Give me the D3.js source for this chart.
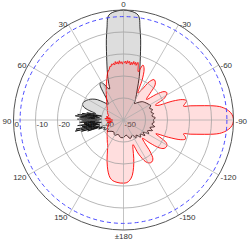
<!DOCTYPE html>
<html><head><meta charset="utf-8">
<script src="https://cdn.jsdelivr.net/npm/d3@7"></script>
<style>html,body{margin:0;padding:0;background:#fff}svg{display:block}</style>
</head><body>
<svg id="c" width="248" height="242"></svg>
<script>
// angle ticks (deg, counter-clockwise from top) and labels
const angleTicks = [0, 30, 60, 90, 120, 150, 180, -150, -120, -90, -60, -30];
const angleLabels = ["0", "30", "60", "90", "120", "150", "±180", "-150", "-120", "-90", "-60", "-30"];
// radial ticks (dB)
const radialTicks = [0, -10, -20, -30, -40, -50];
const radialLabels = ["0", "-10", "-20", "-30", "-40", "-50"];
const refLevel = -3;

// gray pattern (deg, dB)
const grayAngles = [-180,-170,-160,-150,-145,-140,-135,-130,-126,-122,-118,-114,-110,-106,-102,-98,-94,-90,-86,-82,-78,-74,-70,-66,-62,-58,-54,-50,-46,-42,-38,-34,-30,-27,-24,-22,-20,-18,-16,-14,-12,-10,-9,-8,-6,-3,0,3,6,8,9,10,12,14,16,18,20,22,24,26,28,30,32,34,36,38,41,44,48,52,56,60,64,68,71,74,77,79,80,81,82,83,84,85,86,87,88,89,90,91,92,93,94,95,96,97,98,99,100,101,102,103,104,105,106,107,108,110,112,116,120,125,130,140,150,160,170];
const grayDb = [-42,-43,-41,-42,-40,-41,-39,-40,-38,-39.5,-37,-38,-36,-37.5,-35.5,-37,-36,-36.5,-35.5,-37,-36,-37,-36,-37,-36,-36.5,-37,-37.5,-38,-39,-40,-41,-39,-37,-34.5,-32,-29,-26,-22.5,-18,-12.5,-7,-3.5,-1.9,-0.9,-0.3,0,-0.3,-0.9,-1.9,-3.5,-7,-12.5,-18,-22.5,-26,-29,-32,-34.5,-34,-32,-30.5,-30,-31,-34,-37,-39,-40,-38,-35,-33,-31.5,-30.5,-30,-30.5,-33,-37,-33,-40,-31,-38,-29,-39,-28,-37,-30,-40,-29,-38,-31,-39,-30,-37,-32,-40,-29,-38,-31,-39,-28,-37,-27.5,-39,-30,-38,-33,-40,-38,-41,-40,-42,-41,-42,-43,-42,-43,-42];

// red pattern (deg, dB)
const redAngles = [-180,-177,-174,-171,-168,-165,-162,-159,-156,-152,-149,-146,-143,-140,-137,-134,-131,-128,-125,-121,-118,-115,-113,-111,-109,-107,-105,-103,-102,-101,-100,-99,-98,-97,-96,-94,-92,-90,-88,-86,-84,-83,-82,-81,-80,-79,-78,-77,-75,-73,-71,-69,-67,-65,-62,-58,-55,-52,-48,-45,-42,-39,-37,-34,-31,-28,-25,-22,-19.5,-17,-15,-14,-13,-12,-11,-10,-9,-8,-7,-6,-5,-4,-3,-2,-1,0,1,2,3,4,5,6,7,8,9,10,11,12,13,14,15,16,18,20,22,24,27,30,34,38,42,46,50,55,60,65,70,75,80,83,86,89,92,95,98,101,105,110,115,120,125,130,135,140,144,148,152,155,158,161,164,167,170,174,177];
const redDb = [-21.3,-21.5,-22.5,-24.5,-28,-32,-36,-38,-33,-28.5,-27.2,-27,-27.8,-31,-36,-38,-34,-29.5,-27.5,-27,-28,-32,-34,-28,-22.5,-20.5,-21,-22,-19,-16,-12.5,-8.8,-6,-4.3,-3,-1.2,-0.3,0,-0.3,-1.2,-3,-4.3,-6,-8.8,-12.5,-16,-19,-22,-21,-20,-21.5,-26,-33,-34,-29,-26.7,-27.5,-31,-36,-33,-28.5,-27.2,-27,-29,-34,-36,-30,-25,-23.5,-27,-24,-23,-24.5,-23.2,-24.2,-23,-24.5,-23.5,-24.8,-23.2,-24,-23,-24.5,-23.2,-24,-23.3,-24.6,-23.5,-24.2,-23,-24.5,-23.4,-24.3,-23.2,-24.6,-23.8,-24.5,-24,-25,-24.8,-25.5,-26.2,-27,-28.3,-29.8,-31,-32.8,-34.3,-36,-37.5,-38.6,-39.4,-40.2,-41,-41.5,-42,-42.5,-43,-42,-44,-41.5,-45,-42,-45,-42.5,-44,-43,-42.5,-42,-41.5,-41,-40.3,-39.5,-38.5,-37.5,-36.5,-34.5,-32.5,-30,-27.5,-25,-23,-22,-21.5,-21.3];

const W = 248, H = 242, cx = 123.5, cy = 120, R = 110;
const svg = d3.select("#c");
const g = svg.append("g").attr("transform", `translate(${cx},${cy})`);
const r = d3.scaleLinear().domain([-50, 0]).range([0, R]).clamp(true);
const rad = d => -d * Math.PI / 180;  // CCW degrees -> d3 angle
const font = "'Liberation Sans', Arial, sans-serif";

// radial labels (under data)
g.selectAll("text.rl").data(radialTicks).join("text")
  .attr("x", (d) => -r(d) + 1).attr("y", 4.5)
  .attr("font-family", font).attr("font-size", 8).attr("fill", "#333")
  .attr("dominant-baseline", "central")
  .text((d, i) => radialLabels[i]);

// data
const line = d3.lineRadial().curve(d3.curveCatmullRomClosed.alpha(0.5))
  .angle(d => rad(d[0])).radius(d => r(d[1]));
const grayData = grayAngles.map((a, i) => [a, grayDb[i]]);
const redData = redAngles.map((a, i) => [a, redDb[i]]);
g.append("path").attr("d", line(grayData))
  .attr("fill", "rgba(120,120,120,0.25)").attr("stroke", "#000").attr("stroke-width", 0.8);
g.append("path").attr("d", line(redData))
  .attr("fill", "rgba(255,0,0,0.13)").attr("stroke", "#ff0000").attr("stroke-width", 0.9);

// grid
g.selectAll("circle.grid").data(radialTicks.filter(d => d > -50 && d < 0)).join("circle")
  .attr("r", d => r(d)).attr("fill", "none").attr("stroke", "#999").attr("stroke-opacity", 0.7).attr("stroke-width", 1);
g.selectAll("line.spoke").data(angleTicks).join("line")
  .attr("x1", 0).attr("y1", 0)
  .attr("x2", d => -R * Math.sin(d * Math.PI / 180))
  .attr("y2", d => -R * Math.cos(d * Math.PI / 180))
  .attr("stroke", "#aaa").attr("stroke-opacity", 0.7).attr("stroke-width", 1);
g.append("circle").attr("r", r(refLevel)).attr("fill", "none")
  .attr("stroke", "#4a4aff").attr("stroke-width", 1).attr("stroke-dasharray", "4,3");
g.append("circle").attr("r", R).attr("fill", "none").attr("stroke", "#555").attr("stroke-width", 1);

// angle labels
const LR = 112;
g.selectAll("text.al").data(angleTicks).join("text")
  .each(function (d, i) {
    const s = Math.sin(d * Math.PI / 180), c = Math.cos(d * Math.PI / 180);
    const x = -LR * s, y = -LR * c;
    const t = d3.select(this);
    t.attr("x", x).attr("font-family", font).attr("font-size", 8).attr("fill", "#333")
      .attr("text-anchor", s > 0.1 ? "end" : (s < -0.1 ? "start" : "middle"));
    if (c > 0.9) t.attr("y", y - 1);
    else if (c < -0.9) t.attr("y", y + 1).attr("dominant-baseline", "hanging");
    else t.attr("y", y + 1).attr("dominant-baseline", "central");
    t.text(angleLabels[i]);
  });
</script>
</body></html>
